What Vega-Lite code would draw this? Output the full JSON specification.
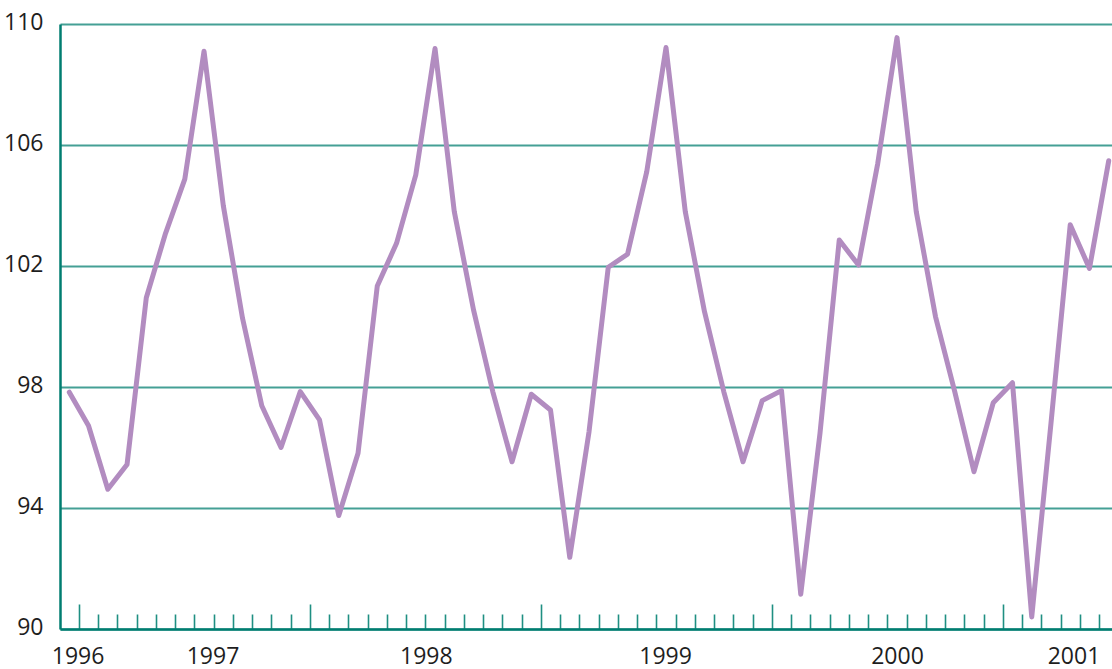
{
  "$schema": "https://vega.github.io/schema/vega-lite/v6.json",
  "width": 1052,
  "height": 605,
  "autosize": "none",
  "padding": {"left": 60, "top": 24, "right": 0, "bottom": 40},
  "background": "white",
  "config": {"view": {"stroke": null}},
  "data": {"values": [
    {"t": 0, "v": 97.83}, {"t": 1, "v": 96.72}, {"t": 2, "v": 94.62}, {"t": 3, "v": 95.44},
    {"t": 4, "v": 100.95}, {"t": 5, "v": 103.08}, {"t": 6, "v": 104.87}, {"t": 7, "v": 109.1},
    {"t": 8, "v": 104.0}, {"t": 9, "v": 100.27}, {"t": 10, "v": 97.38}, {"t": 11, "v": 96.0},
    {"t": 12, "v": 97.85}, {"t": 13, "v": 96.91}, {"t": 14, "v": 93.75}, {"t": 15, "v": 95.81},
    {"t": 16, "v": 101.34}, {"t": 17, "v": 102.75}, {"t": 18, "v": 105.01}, {"t": 19, "v": 109.19},
    {"t": 20, "v": 103.8}, {"t": 21, "v": 100.55}, {"t": 22, "v": 97.85}, {"t": 23, "v": 95.53},
    {"t": 24, "v": 97.76}, {"t": 25, "v": 97.24}, {"t": 26, "v": 92.37}, {"t": 27, "v": 96.52},
    {"t": 28, "v": 101.96}, {"t": 29, "v": 102.39}, {"t": 30, "v": 105.12}, {"t": 31, "v": 109.22},
    {"t": 32, "v": 103.8}, {"t": 33, "v": 100.49}, {"t": 34, "v": 97.85}, {"t": 35, "v": 95.53},
    {"t": 36, "v": 97.55}, {"t": 37, "v": 97.88}, {"t": 38, "v": 91.15}, {"t": 39, "v": 96.47},
    {"t": 40, "v": 102.86}, {"t": 41, "v": 102.03}, {"t": 42, "v": 105.39}, {"t": 43, "v": 109.55},
    {"t": 44, "v": 103.8}, {"t": 45, "v": 100.33}, {"t": 46, "v": 97.85}, {"t": 47, "v": 95.2},
    {"t": 48, "v": 97.48}, {"t": 49, "v": 98.14}, {"t": 50, "v": 90.4}, {"t": 51, "v": 96.8},
    {"t": 52, "v": 103.36}, {"t": 53, "v": 101.92}, {"t": 54, "v": 105.48}
  ]},
  "mark": {"type": "line", "color": "#b28cc0", "strokeWidth": 5, "strokeJoin": "round", "strokeCap": "round", "clip": false},
  "encoding": {
    "x": {
      "field": "t", "type": "quantitative",
      "scale": {"domain": [-0.483, 54.17], "nice": false, "zero": false},
      "axis": {
        "title": null,
        "grid": false,
        "domainColor": "#007d70",
        "domainWidth": 2.5,
        "values": [0.43, 7.44, 18.52, 30.95, 43, 52.17,
          0.5, 1.5, 2.5, 3.5, 4.5, 5.5, 6.5, 7.5, 8.5, 9.5, 10.5, 11.5, 12.5, 13.5, 14.5, 15.5, 16.5, 17.5, 18.5, 19.5,
          20.5, 21.5, 22.5, 23.5, 24.5, 25.5, 26.5, 27.5, 28.5, 29.5, 30.5, 31.5, 32.5, 33.5, 34.5, 35.5, 36.5, 37.5, 38.5, 39.5,
          40.5, 41.5, 42.5, 43.5, 44.5, 45.5, 46.5, 47.5, 48.5, 49.5, 50.5, 51.5, 52.5, 53.5],
        "labelExpr": "datum.value == 0.43 ? '1996' : datum.value == 7.44 ? '1997' : datum.value == 18.52 ? '1998' : datum.value == 30.95 ? '1999' : datum.value == 43 ? '2000' : datum.value == 52.17 ? '2001' : ''",
        "labelOverlap": false,
        "labelFlush": false,
        "labelBound": false,
        "labelBaseline": "top",
        "labelPadding": 16,
        "labelFont": "Liberation Sans Narrow, Open Sans",
        "labelFontSize": 23,
        "labelColor": "#1e1e1e",
        "tickColor": "#1f8f82",
        "tickWidth": 1.6,
        "tickSize": {"condition": [
          {"test": "indexof([0.43, 7.44, 18.52, 30.95, 43, 52.17], datum.value) >= 0", "value": 0},
          {"test": "indexof([0.5, 12.5, 24.5, 36.5, 48.5], datum.value) >= 0", "value": -25}
        ], "value": -15},
        "tickOpacity": {"condition": {"test": "indexof([0.43, 7.44, 18.52, 30.95, 43, 52.17], datum.value) >= 0", "value": 0}, "value": 1}
      }
    },
    "y": {
      "field": "v", "type": "quantitative",
      "scale": {"domain": [90, 110], "nice": false, "zero": false},
      "axis": {
        "title": null,
        "values": [90, 94, 98, 102, 106, 110],
        "ticks": false,
        "grid": true,
        "gridColor": "#45a095",
        "gridWidth": 1.8,
        "domainColor": "#007d70",
        "domainWidth": 2.5,
        "labelPadding": 17,
        "labelFont": "Liberation Sans Narrow, Open Sans",
        "labelFontSize": 23,
        "labelColor": "#1e1e1e",
        "labelOffset": -2
      }
    }
  }
}
